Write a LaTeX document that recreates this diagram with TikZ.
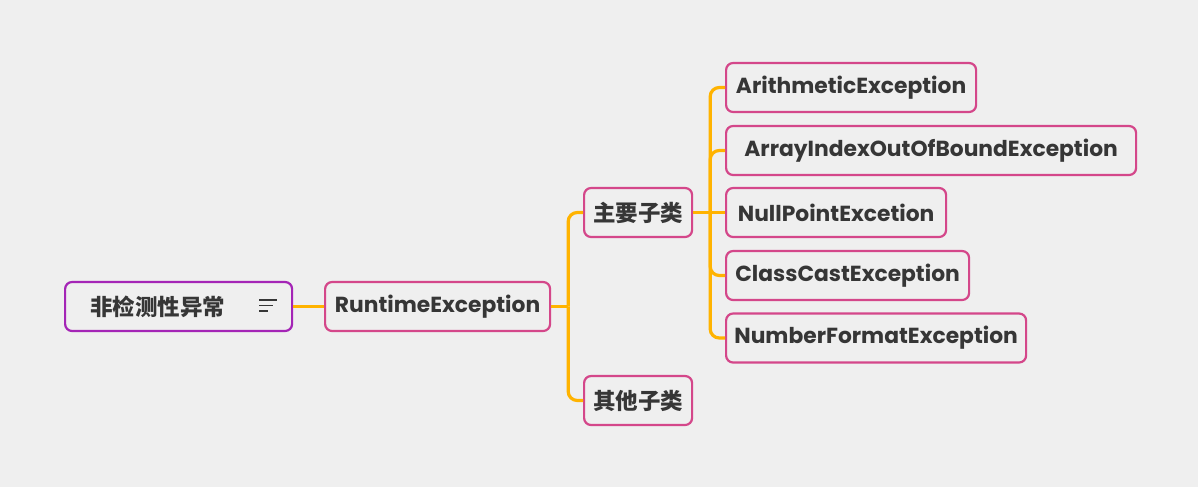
\documentclass[tikz,border=0pt]{standalone}
\usepackage{fontspec}
\setmainfont{Poppins}
\newfontfamily\cjk{Noto Sans CJK SC}
\usetikzlibrary{positioning}
\definecolor{bg}{HTML}{EFEFEF}
\definecolor{txt}{HTML}{363636}
\definecolor{pinkline}{HTML}{D4478A}
\definecolor{purpleline}{HTML}{A425B6}
\definecolor{branch}{HTML}{FFB300}

\begin{document}
\begin{tikzpicture}[
    x=1pt, y=-1pt,
    every node/.style={font=\bfseries\fontsize{21.8}{24}\selectfont, text=txt},
    box/.style={draw=pinkline, line width=2.2pt, rounded corners=7pt, fill=bg,
        minimum height=49pt, inner xsep=0pt, anchor=west},
    zh/.style={font=\cjk\bfseries\fontsize{22.5}{25}\selectfont},
    conn/.style={draw=branch, line width=3.2pt},
]
    \fill[bg] (0,0) rectangle (1198,487);
    \useasboundingbox (0,0) rectangle (1198,487);

    % root
    \node[box, draw=purpleline, minimum width=227pt] (root) at (64,306.5) {};
    \node[zh] (rootlabel) at (157.5,306.5) {非检测性异常};
    \draw[txt, line width=1.3pt] (259,300) -- (277,300)
        (259,305.5) -- (273,305.5) (259,311) -- (268,311);

    % second level
    \node[box, minimum width=225pt] (rt) at (324,306.5) {RuntimeException};
    \node[box, zh, minimum width=108pt] (main) at (583,212.5) {主要子类};
    \node[box, zh, minimum width=108pt] (other) at (583,400.5) {其他子类};

    % leaves
    \node[box, minimum width=250pt] (arith) at (725,87.5)  {ArithmeticException};
    \node[box, minimum width=410pt] (array) at (725,150.5) {ArrayIndexOutOfBoundException};
    \node[box, minimum width=220pt] (nullp) at (725,212.5) {NullPointExcetion};
    \node[box, minimum width=243pt] (cast)  at (725,275.5) {ClassCastException};
    \node[box, minimum width=300pt] (numf)  at (725,338)   {NumberFormatException};

    % connectors
    \draw[conn] (root.east) -- (rt.west);
    \draw[conn] (rt.east) -- ++(17,0) coordinate (j1);
    \draw[conn, rounded corners=9pt] (j1) |- (main.west);
    \draw[conn, rounded corners=9pt] (j1) |- (other.west);

    \draw[conn] (main.east) -- ++(17,0) coordinate (j2);
    \draw[conn, rounded corners=9pt] (j2) |- (arith.west);
    \draw[conn, rounded corners=9pt] (j2) |- (array.west);
    \draw[conn] (j2) -- (nullp.west);
    \draw[conn, rounded corners=9pt] (j2) |- (cast.west);
    \draw[conn, rounded corners=9pt] (j2) |- (numf.west);
\end{tikzpicture}
\end{document}
